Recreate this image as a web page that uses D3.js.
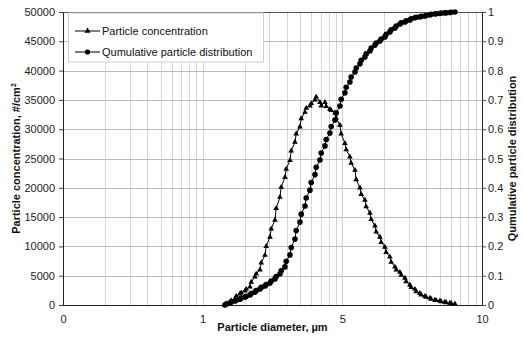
<!DOCTYPE html>
<html><head><meta charset="utf-8">
<script src="https://cdn.jsdelivr.net/npm/d3@7"></script>
<style>body{margin:0;background:#fff}svg{display:block}text{font-family:"Liberation Sans",Arial,sans-serif}</style>
</head><body><svg id="c" width="523" height="344"></svg>
<script>
const diameter = [1.444,1.474,1.568,1.601,1.703,1.738,1.849,1.887,2.008,2.050,2.181,2.226,2.368,2.417,2.572,2.626,2.793,2.851,3.033,3.096,3.293,3.362,3.575,3.649,3.883,3.964,4.217,4.305,4.579,4.674,4.972,5.076,5.400,5.512,5.864,5.986,6.368,6.501,6.915,7.059,7.509,7.665,8.152,8.322,8.852,9.036,9.612,9.812,10.44,10.66,11.33,11.57,12.31,12.57,13.37,13.65,14.51,14.81,15.76,16.09,17.12,17.48,18.58,18.97,20.18,20.60,21.91,22.37,23.80,24.30,25.84,26.38,28.06,28.64,30.47,31.10,33.09,33.78,35.93,36.68,39.02,39.83,42.37,43.25,46.01,46.97,49.96,51.00,54.25,55.38,58.91,60.14,63.97];
const concentration = [0,250,500,750,1000,1500,1900,2100,2400,2700,3100,3900,4800,5300,6000,7200,8500,10000,11600,13000,14500,16500,18400,20100,21800,23200,24700,26300,27800,29200,30400,31800,32900,33600,34000,34400,35000,35500,34600,34000,34600,33900,33400,33200,32800,31900,30700,29200,27600,26500,25300,24200,23000,21400,20000,18900,17900,16800,15700,14600,13500,12500,11600,10700,9900,9000,8200,7300,6500,6000,5600,5100,4600,4000,3400,3000,2700,2300,2000,1750,1500,1350,1200,1000,850,780,700,600,500,420,350,280,200];
const cumulative = [0,0.003,0.007,0.010,0.014,0.017,0.020,0.024,0.027,0.030,0.034,0.039,0.044,0.049,0.055,0.060,0.065,0.070,0.075,0.082,0.089,0.097,0.106,0.117,0.130,0.149,0.171,0.196,0.225,0.254,0.283,0.310,0.338,0.365,0.392,0.418,0.445,0.470,0.495,0.519,0.543,0.565,0.587,0.609,0.631,0.655,0.679,0.702,0.724,0.743,0.761,0.778,0.795,0.809,0.823,0.835,0.846,0.857,0.867,0.877,0.887,0.894,0.901,0.908,0.915,0.924,0.932,0.939,0.945,0.952,0.959,0.963,0.966,0.970,0.973,0.977,0.980,0.982,0.983,0.985,0.986,0.988,0.990,0.992,0.993,0.994,0.995,0.996,0.997,0.9975,0.998,0.999,1.0];
const xTickValues = [0.1,1,10,100];
const xTickLabels = ["0","1","5","10"];
const yLeftTicks = [0,5000,10000,15000,20000,25000,30000,35000,40000,45000,50000];
const yRightTicks = [0,0.1,0.2,0.3,0.4,0.5,0.6,0.7,0.8,0.9,1];
const seriesNames = ["Particle concentration","Qumulative particle distribution"];

const svg = d3.select("#c");
const L=63, R=482, T=12, B=305;
const x = d3.scaleLog().domain([0.1,100]).range([L,R]);
const yL = d3.scaleLinear().domain([0,50000]).range([B,T]);
const yR = d3.scaleLinear().domain([0,1]).range([B,T]);

// vertical log gridlines
const vgrid = [];
[0.1,1,10].forEach(d=>{for(let k=1;k<10;k++) vgrid.push(d*k);});
svg.append("g").selectAll("line").data(vgrid.filter(v=>v>0.1&&v<100)).join("line")
  .attr("x1",d=>Math.round(x(d))+0.5).attr("x2",d=>Math.round(x(d))+0.5)
  .attr("y1",T).attr("y2",B).attr("stroke","#d6d6d6").attr("stroke-width",1);
// horizontal gridlines
svg.append("g").selectAll("line").data(yLeftTicks.slice(1)).join("line")
  .attr("x1",L).attr("x2",R).attr("y1",d=>Math.round(yL(d))+0.5).attr("y2",d=>Math.round(yL(d))+0.5)
  .attr("stroke","#bdbdbd").attr("stroke-width",1);

// axes
const axL = svg.append("g").attr("transform",`translate(${L},0)`)
  .call(d3.axisLeft(yL).tickValues(yLeftTicks).tickSize(4).tickPadding(4).tickFormat(d3.format("d")));
const axR = svg.append("g").attr("transform",`translate(${R},0)`)
  .call(d3.axisRight(yR).tickValues(yRightTicks).tickSize(4).tickPadding(2).tickFormat(d=>d===0||d===1?String(d):d3.format(".1f")(d)));
const axB = svg.append("g").attr("transform",`translate(0,${B})`)
  .call(d3.axisBottom(x).tickValues(xTickValues).tickSize(0).tickPadding(10).tickFormat((d,i)=>xTickLabels[i]));
[axL,axR,axB].forEach(a=>{
  a.selectAll("text").attr("font-size",11).attr("fill","#222").attr("font-family","'Liberation Sans',Arial,sans-serif");
  a.select(".domain").attr("stroke","#222");
  a.selectAll(".tick line").attr("stroke","#444");
});
axB.select(".domain").remove();
// frame
svg.append("line").attr("x1",L).attr("x2",R).attr("y1",T+0.5).attr("y2",T+0.5).attr("stroke","#555");
svg.append("line").attr("x1",L).attr("x2",R).attr("y1",B+0.5).attr("y2",B+0.5).attr("stroke","#222");

// series
const ptsC = diameter.map((d,i)=>[d,concentration[i]]);
const ptsQ = diameter.map((d,i)=>[d,cumulative[i]]);
const tri = d3.symbol().type(d3.symbolTriangle).size(14);
svg.append("path").datum(ptsC).attr("fill","none").attr("stroke","#000").attr("stroke-width",1)
  .attr("d",d3.line().x(d=>x(d[0])).y(d=>yL(d[1])));
svg.append("g").selectAll("path").data(ptsC).join("path").attr("d",tri)
  .attr("transform",d=>`translate(${x(d[0])},${yL(d[1])})`).attr("fill","#000");
svg.append("path").datum(ptsQ).attr("fill","none").attr("stroke","#000").attr("stroke-width",1)
  .attr("d",d3.line().x(d=>x(d[0])).y(d=>yR(d[1])));
svg.append("g").selectAll("circle").data(ptsQ).join("circle")
  .attr("cx",d=>x(d[0])).attr("cy",d=>yR(d[1])).attr("r",2.8).attr("fill","#000");

// legend
const lg = svg.append("g");
lg.append("rect").attr("x",68.5).attr("y",13).attr("width",195).attr("height",49).attr("fill","#fff").attr("stroke","#cfcfcf");
const triL = d3.symbol().type(d3.symbolTriangle).size(16);
seriesNames.forEach((n,i)=>{
  const yy = 31 + i*21;
  lg.append("line").attr("x1",75).attr("x2",100).attr("y1",yy).attr("y2",yy).attr("stroke","#000");
  if(i===0) lg.append("path").attr("d",triL).attr("transform",`translate(87.5,${yy})`).attr("fill","#000");
  else lg.append("circle").attr("cx",87.5).attr("cy",yy).attr("r",2.6).attr("fill","#000");
  lg.append("text").attr("x",102).attr("y",yy+4).attr("font-size",11).attr("fill","#111").text(n);
});

// axis titles
svg.append("text").attr("x",(L+R)/2).attr("y",331).attr("text-anchor","middle")
  .attr("font-size",11).attr("font-weight","bold").attr("fill","#111").text("Particle diameter, µm");
const lt = svg.append("text").attr("transform",`translate(20,${(T+B)/2}) rotate(-90)`).attr("text-anchor","middle")
  .attr("font-size",11).attr("font-weight","bold").attr("fill","#111");
lt.append("tspan").text("Particle concentration, #/cm");
lt.append("tspan").attr("dy",-4).attr("font-size",7).text("2");
svg.append("text").attr("transform",`translate(516,${(T+B)/2}) rotate(-90)`).attr("text-anchor","middle")
  .attr("font-size",11).attr("font-weight","bold").attr("fill","#111").text("Qumulative particle distribution");
</script></body></html>
